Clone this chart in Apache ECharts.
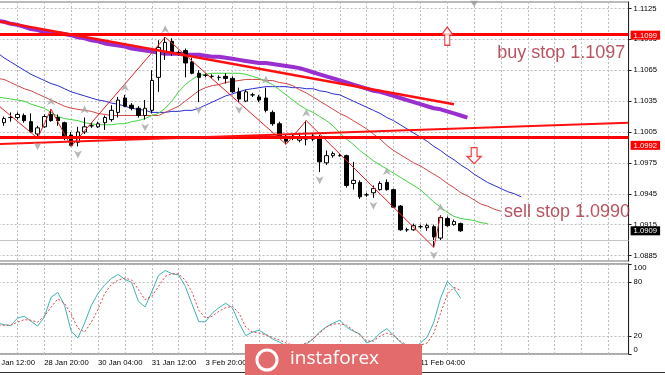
<!DOCTYPE html>
<html><head><meta charset="utf-8">
<script src="https://cdn.jsdelivr.net/npm/echarts@6/dist/echarts.min.js"></script>
<style>html,body{margin:0;padding:0;background:#fff}#c{width:665px;height:375px}</style>
</head><body><div id="c"></div>
<script>
// ---------- categories (H4 bars, weekends skipped) ----------
const days = ['27 Jan','28 Jan','29 Jan','30 Jan','31 Jan','3 Feb','4 Feb','5 Feb','6 Feb','7 Feb','10 Feb','11 Feb','12 Feb','13 Feb','14 Feb','17 Feb','18 Feb','19 Feb'];
const hours = ['00:00','04:00','08:00','12:00','16:00','20:00'];
const categories = [];
days.forEach(d => hours.forEach(h => categories.push(d + ' ' + h)));
categories.splice(0, 3);          // first category: 27 Jan 12:00
categories.length = 96;
const tickLabels = ['27 Jan 12:00','28 Jan 20:00','30 Jan 04:00','31 Jan 12:00','3 Feb 20:00','5 Feb 04:00','6 Feb 12:00','7 Feb 20:00','11 Feb 04:00'];
const OFF = 2; // bar 0 (27 Jan 20:00) is category 2

// ---------- candles ----------
const opens  = [1.1014,1.1019,1.1019,1.1021,1.1015,1.1003,1.1010,1.1022,1.1019,1.1014,1.1002,1.0995,1.1005,1.1011,1.1010,1.1014,1.1017,1.1024,1.1038,1.1031,1.1028,1.1021,1.1026,1.1058,1.1083,1.1093,1.1082,1.1084,1.1073,1.1062,1.1060,1.1059,1.1058,1.1059,1.1057,1.1044,1.1035,1.1041,1.1039,1.1038,1.1024,1.1013,1.1000,1.0999,1.0997,1.0998,1.0998,1.1000,1.0975,1.0982,1.0982,1.0982,1.0955,1.0956,1.0944,1.0946,1.0949,1.0956,1.0949,1.0933,1.0910,1.0910,1.0913,1.0912,1.0913,1.0902,1.0921,1.0915,1.0916];
const closes = [1.1018,1.1019,1.1022,1.1016,1.1005,1.1009,1.1020,1.1016,1.1016,1.1000,1.0992,1.1005,1.1010,1.1011,1.1013,1.1019,1.1026,1.1036,1.1030,1.1028,1.1021,1.1028,1.1055,1.1087,1.1092,1.1082,1.1082,1.1072,1.1062,1.1058,1.1060,1.1059,1.1058,1.1057,1.1044,1.1037,1.1044,1.1041,1.1036,1.1026,1.1013,1.1001,1.0996,1.0999,1.1000,1.1000,1.1001,1.0976,1.0982,1.0984,1.0982,1.0953,1.0958,1.0942,1.0944,1.0950,1.0955,1.0949,1.0932,1.0910,1.0910,1.0914,1.0913,1.0914,1.0903,1.0922,1.0914,1.0918,1.0909];
const lows   = [1.1011,1.1015,1.1017,1.1014,1.1004,1.0999,1.1009,1.1015,1.1011,1.0997,1.0991,1.0991,1.1003,1.1009,1.1009,1.1007,1.1015,1.1019,1.1029,1.1026,1.1019,1.1017,1.1023,1.1044,1.1075,1.1079,1.1079,1.1058,1.1061,1.1034,1.1058,1.1057,1.1055,1.1052,1.1043,1.1034,1.1034,1.1039,1.1034,1.1024,1.1011,1.0999,1.0993,1.0997,1.0995,1.0992,1.0996,1.0966,1.0973,1.0980,1.0981,1.0951,1.0949,1.0940,1.0942,1.0941,1.0948,1.0948,1.0931,1.0909,1.0908,1.0909,1.0911,1.0909,1.0893,1.0900,1.0913,1.0914,1.0908];
const highs  = [1.1020,1.1024,1.1024,1.1023,1.1023,1.1011,1.1022,1.1027,1.1022,1.1015,1.1005,1.1010,1.1019,1.1014,1.1015,1.1021,1.1031,1.1039,1.1041,1.1033,1.1030,1.1036,1.1065,1.1094,1.1097,1.1096,1.1084,1.1086,1.1077,1.1065,1.1062,1.1061,1.1060,1.1062,1.1059,1.1048,1.1046,1.1043,1.1041,1.1048,1.1026,1.1015,1.1002,1.1002,1.1003,1.1016,1.1004,1.1002,1.0987,1.0986,1.0984,1.0983,1.0976,1.0958,1.0946,1.0953,1.0957,1.0959,1.0950,1.0934,1.0912,1.0916,1.0915,1.0916,1.0915,1.0924,1.0923,1.0920,1.0917];

// ---------- indicator lines (from category 0) ----------
const lips = [1.1040,1.1039,1.1038,1.1037,1.1036,1.1035,1.1032,1.1030,1.1028,1.1024,1.1020,1.1018,1.1017,1.1016,1.1014,1.1013,1.1012,1.1012,1.1012,1.1013,1.1013,1.1015,1.1016,1.1018,1.1021,1.1023,1.1028,1.1035,1.1044,1.1051,1.1056,1.1060,1.1061,1.1062,1.1062,1.1062,1.1062,1.1062,1.1061,1.1059,1.1057,1.1054,1.1051,1.1046,1.1041,1.1036,1.1031,1.1027,1.1024,1.1020,1.1016,1.1011,1.1004,1.0998,1.0993,1.0987,1.0982,1.0977,1.0973,1.0969,1.0965,1.0961,1.0957,1.0953,1.0949,1.0943,1.0937,1.0932,1.0927,1.0923,1.0921,1.0920,1.0919,1.0917,1.0916];
const teeth = [1.1060,1.1057,1.1056,1.1053,1.1050,1.1047,1.1045,1.1042,1.1039,1.1036,1.1033,1.1030,1.1028,1.1027,1.1026,1.1025,1.1023,1.1022,1.1021,1.1021,1.1021,1.1021,1.1021,1.1021,1.1021,1.1021,1.1024,1.1027,1.1030,1.1035,1.1040,1.1045,1.1048,1.1050,1.1051,1.1053,1.1054,1.1055,1.1056,1.1056,1.1056,1.1055,1.1055,1.1053,1.1052,1.1050,1.1046,1.1043,1.1039,1.1035,1.1031,1.1027,1.1023,1.1020,1.1016,1.1012,1.1008,1.1003,1.0998,1.0992,1.0987,1.0983,1.0979,1.0975,1.0972,1.0968,1.0964,1.0960,1.0955,1.0951,1.0946,1.0943,1.0939,1.0935,1.0933,1.0930,1.0928];
const jaw = [1.1085,1.1082,1.1077,1.1073,1.1069,1.1065,1.1061,1.1058,1.1055,1.1052,1.1050,1.1047,1.1044,1.1042,1.1040,1.1038,1.1036,1.1035,1.1033,1.1032,1.1030,1.1028,1.1027,1.1026,1.1024,1.1024,1.1024,1.1025,1.1025,1.1026,1.1026,1.1028,1.1031,1.1034,1.1037,1.1040,1.1042,1.1044,1.1046,1.1047,1.1048,1.1049,1.1049,1.1049,1.1049,1.1048,1.1048,1.1047,1.1047,1.1045,1.1044,1.1042,1.1041,1.1038,1.1035,1.1032,1.1029,1.1026,1.1023,1.1019,1.1016,1.1012,1.1008,1.1004,1.1000,1.0996,1.0991,1.0987,1.0982,1.0978,1.0973,1.0969,1.0964,1.0960,1.0956,1.0953,1.0950,1.0947,1.0945,1.0942];
const slowMA = [1.1115,1.1113,1.1112,1.1110,1.1109,1.1107,1.1105,1.1104,1.1102,1.1101,1.1101,1.1100,1.1099,1.1097,1.1096,1.1094,1.1093,1.1091,1.1090,1.1089,1.1088,1.1086,1.1085,1.1084,1.1083,1.1082,1.1081,1.1081,1.1081,1.1080,1.1080,1.1080,1.1079,1.1078,1.1078,1.1077,1.1076,1.1075,1.1074,1.1073,1.1072,1.1072,1.1071,1.1070,1.1069,1.1068,1.1067,1.1065,1.1063,1.1061,1.1059,1.1057,1.1055,1.1053,1.1051,1.1049,1.1047,1.1045,1.1044,1.1042,1.1040,1.1038,1.1036,1.1034,1.1032,1.1030,1.1028,1.1027,1.1025,1.1023,1.1021,1.1019];
const stochK = [36.5,34.3,32.6,31.5,39.8,42,36.5,31,40.9,63,68.5,54.1,25.4,18,34.3,54.1,67.4,76.8,84,88.4,82.9,79.6,58.6,52.3,69.1,87.3,92.8,89.2,87.8,75.1,55.3,35.9,35.7,45.3,51.4,56.4,51.4,34.3,20.4,24.3,26.5,21.5,16.6,13.3,8.8,6.6,7.7,11,16.6,24.6,30.2,34.3,37.6,29.8,25.4,22.1,12.2,15.5,23.2,28.2,21,13.3,7.7,6.6,12.2,18.8,35.4,61.9,80.7,72.9,61.9];
const stochD = [32,32,32,32,35.4,38.1,37.6,35.4,42,51.9,61.3,56.4,44.2,28.7,24.3,35.4,49.7,67.4,77.4,82.3,84.3,82.3,71.8,60.2,64.1,75.1,86.2,89.2,89,81.8,68.5,48.6,39.8,42,47.5,51.4,53,45.3,29.8,24.3,23.2,21.5,18.2,15.5,12.2,9.9,9.9,12.2,16.6,23.2,29.8,33.2,33.7,32,26.5,21,14.4,14.4,19.9,23.2,21,14.4,9.9,8.8,9.9,12.2,23.2,45.3,66.3,74,70.7];

// zigzag vertices (bar index, price)
const zigBars   = [-2, 5, 7, 10, 24, 42, 45, 64, 65];
const zigPrices = [1.1037,1.0999,1.1027,1.0991,1.1097,1.0993,1.1016,1.0893,1.0924];
// fractals (bar indices)
const fractalUp   = [7, 12, 18, 24, 39, 45, 57, 65];
const fractalDown = [5, 11, 21, 29, 35, 47, 55, 64];
// trend lines (bar index, price)
const downTrendBars = [-2, 67], downTrendPrices = [1.1114, 1.1032];
const upTrendBars   = [-2, 93], upTrendPrices   = [1.0993, 1.1014];
// levels
const resistance = 1.1099, support = 1.0992, buyStop = 1.1097, sellStop = 1.0990;
const dashLevels = [1.1053, 1.1035];
const bid = 1.0909;
const priceTicks = [1.0885,1.0915,1.0945,1.0975,1.1005,1.1035,1.1065,1.1095,1.1125];
const stochTicks = [0, 20, 80, 100];
const stochLabels = [0, 20, 80];
// arrows / texts
const buyArrow = [66, 1.1098], sellArrow = [70, 1.0982];
const buyText = [73, 1.1082, 'buy stop 1.1097'];
const sellText = [74, 1.0927, 'sell stop 1.0990'];

const FONT = 'Liberation Sans';
const gridColor = '#bdbdbd';
const chart = echarts.init(document.getElementById('c'));

const candleData = opens.map((o, i) => [i + OFF, o, closes[i], lows[i], highs[i]]);
const xAxisBase = (gi, showLabel) => ({
  type: 'category', gridIndex: gi, data: categories, boundaryGap: false,
  axisLine: {show: false}, axisTick: {show: false},
  axisLabel: {show: showLabel, interval: (j, v) => tickLabels.indexOf(v) >= 0, align: 'left',
    fontFamily: FONT, fontSize: 7.7, color: '#000', margin: 5, hideOverlap: false},
  splitLine: {show: true, interval: (j) => j % 4 === 0, lineStyle: {color: gridColor, type: [2, 2], width: 1}}
});
const ARROW = 'path://M6,0 L12,8 L8.5,8 L8.5,18 L3.5,18 L3.5,8 L0,8 Z';
const FRACT = 'path://M5,0 L10,9 L5,6.5 L0,9 Z';

chart.setOption({
  animation: false,
  backgroundColor: '#fff',
  grid: [
    {left: -9.4, right: 36.4, top: 2, height: 259, outerBoundsMode: 'none', containLabel: false,
     show: true, borderColor: '#777', borderWidth: 1, backgroundColor: 'transparent'},
    {left: -9.4, right: 36.4, top: 264, height: 90, outerBoundsMode: 'none', containLabel: false,
     show: true, borderColor: '#555', borderWidth: 1, backgroundColor: 'transparent'}
  ],
  xAxis: [xAxisBase(0, false), xAxisBase(1, true)],
  yAxis: [
    {type: 'value', gridIndex: 0, position: 'right', min: 1.08797, max: 1.11312, scale: true,
     axisLine: {show: true, lineStyle: {color: '#222'}},
     axisTick: {show: true, length: 3, customValues: priceTicks, lineStyle: {color: '#222'}},
     axisLabel: {customValues: priceTicks, formatter: v => v.toFixed(4), fontFamily: FONT, fontSize: 7.7, color: '#000', margin: 5},
     splitLine: {show: true, lineStyle: {color: gridColor, type: [2, 2]}}},
    {type: 'value', gridIndex: 0, position: 'right', min: 1.08797, max: 1.11312, scale: true,
     axisLine: {show: false}, axisTick: {show: false}, splitLine: {show: false},
     axisLabel: {customValues: [resistance, support, bid], margin: 2,
       formatter: v => (Math.abs(v - bid) < 1e-6 ? '{b|' : '{r|') + v.toFixed(4) + '}',
       rich: {r: {backgroundColor: '#ff0000', color: '#fff', padding: [1, 3, 0, 3], fontFamily: FONT, fontSize: 7.7},
              b: {backgroundColor: '#000', color: '#fff', padding: [1, 3, 0, 3], fontFamily: FONT, fontSize: 7.7}}}},
    {type: 'value', gridIndex: 1, position: 'right', min: 0, max: 100,
     axisLine: {show: true, lineStyle: {color: '#222'}},
     axisTick: {show: true, length: 3, customValues: stochTicks, lineStyle: {color: '#222'}},
     axisLabel: {customValues: stochLabels, color: '#000', margin: 5, hideOverlap: false,
       showMinLabel: true, showMaxLabel: true,
       formatter: v => (v < 1 ? '{m|0}' : '{n|' + Math.round(v) + '}'),
       rich: {m: {padding: [0, 0, 8, 0], fontFamily: FONT, fontSize: 7.7, color: '#000'},
              n: {fontFamily: FONT, fontSize: 7.7, color: '#000'}}},
     splitLine: {show: true, lineStyle: {color: gridColor, type: [2, 2]}}},
    // separate label-only axis for the top level (100) of the oscillator, set just inside the pane
    {type: 'value', gridIndex: 1, position: 'right', min: 0, max: 100,
     axisLine: {show: false}, axisTick: {show: false}, splitLine: {show: false},
     axisLabel: {customValues: [95.5], formatter: () => String(stochTicks[3]), color: '#000', margin: 5,
       fontFamily: FONT, fontSize: 7.7, hideOverlap: false, showMinLabel: true, showMaxLabel: true}}
  ],
  series: [
    {type: 'line', name: 'levels', xAxisIndex: 0, yAxisIndex: 0, data: [], silent: true,
     markLine: {silent: true, symbol: ['none', 'none'], label: {show: false}, animation: false,
       data: [
         {yAxis: bid, lineStyle: {color: '#c4c4c4', width: 1, type: 'solid'}},
         {yAxis: dashLevels[0], lineStyle: {color: '#e0784a', width: 1, type: [8, 3, 2, 3]}},
         {yAxis: dashLevels[1], lineStyle: {color: '#e0784a', width: 1, type: [8, 3, 2, 3]}}
       ]}},
    {type: 'line', name: 'jaw', data: jaw, showSymbol: false, lineStyle: {color: '#2b2bd0', width: 1}, z: 3},
    {type: 'line', name: 'teeth', data: teeth, showSymbol: false, lineStyle: {color: '#d04545', width: 1}, z: 3},
    {type: 'line', name: 'lips', data: lips, showSymbol: false, lineStyle: {color: '#3fd43f', width: 1}, z: 3},
    {type: 'line', name: 'ma', data: slowMA, showSymbol: false, lineStyle: {color: '#9a2fd0', width: 4}, z: 3},
    {type: 'candlestick', name: 'EURUSD', data: candleData, encode: {x: 0, y: [1, 2, 3, 4]}, barWidth: 4,
     itemStyle: {color: '#fff', color0: '#000', borderColor: '#000', borderColor0: '#000', borderWidth: 1}, z: 4},
    {type: 'line', name: 'zigzag', data: zigBars.map((b, k) => [b + OFF, zigPrices[k]]), showSymbol: false,
     lineStyle: {color: '#e02020', width: 1}, z: 5},
    {type: 'line', name: 'downTrend', data: downTrendBars.map((b, k) => [b + OFF, downTrendPrices[k]]), showSymbol: false,
     lineStyle: {color: '#ff1010', width: 2.5}, z: 6},
    {type: 'line', name: 'upTrend', data: upTrendBars.map((b, k) => [b + OFF, upTrendPrices[k]]), showSymbol: false,
     lineStyle: {color: '#ff1010', width: 2}, z: 6},
    {type: 'line', name: 'orders', data: [], silent: true, z: 6,
     markLine: {silent: true, symbol: ['none', 'none'], label: {show: false}, animation: false,
       data: [
         {yAxis: buyStop, lineStyle: {color: '#2e7d2e', width: 1, type: [6, 3]}},
         {yAxis: sellStop, lineStyle: {color: '#8c5a1e', width: 2, type: [6, 3]}},
         {yAxis: resistance, lineStyle: {color: '#ff0000', width: 3, type: 'solid'}},
         {yAxis: support, lineStyle: {color: '#ff0000', width: 3, type: 'solid'}}
       ]}},
    {type: 'scatter', name: 'fractalUp', data: fractalUp.map(i => [i + OFF, highs[i]]), symbol: FRACT, symbolSize: [8, 8],
     symbolOffset: [0, -8], itemStyle: {color: '#a6a6a6'}, z: 7},
    {type: 'scatter', name: 'fractalDown', data: fractalDown.map(i => [i + OFF, lows[i]]), symbol: FRACT, symbolSize: [8, 8],
     symbolRotate: 180, symbolOffset: [0, 8], itemStyle: {color: '#a6a6a6'}, z: 7},
    {type: 'scatter', name: 'arrows', z: 8,
     data: [{value: [buyArrow[0] + OFF, buyArrow[1]], symbolRotate: 0, symbolSize: [12, 18]},
            {value: [sellArrow[0] + OFF, sellArrow[1]], symbolRotate: 180, symbolSize: [14, 16]}],
     symbol: ARROW, itemStyle: {color: '#fff', borderColor: '#ee1111', borderWidth: 1.3}},
    {type: 'scatter', name: 'texts', symbolSize: 0, z: 8,
     data: [buyText, sellText].map(t => ({value: [t[0] + OFF, t[1]], label: {formatter: t[2]}})),
     label: {show: true, position: 'right', distance: 3, color: '#a82838', fontFamily: FONT, fontSize: 18}},
    {type: 'scatter', name: 'shift', data: [[72, 1.11295]], symbol: 'triangle', symbolRotate: 180, symbolSize: [8, 6],
     itemStyle: {color: '#9a9a9a'}, z: 8},
    {type: 'line', name: '%K', xAxisIndex: 1, yAxisIndex: 2, data: stochK, showSymbol: false,
     lineStyle: {color: '#3fb3b0', width: 1}},
    {type: 'line', name: '%D', xAxisIndex: 1, yAxisIndex: 2, data: stochD, showSymbol: false,
     lineStyle: {color: '#e0404a', width: 1, type: [2, 2]}}
  ],
  graphic: {elements: [
    {type: 'line', shape: {x1: 0, y1: 372.5, x2: 665, y2: 372.5}, style: {stroke: '#333', lineWidth: 1}, z: 90},
    {type: 'rect', shape: {x: 245, y: 344, width: 177, height: 31}, style: {fill: '#e36b6b'}, z: 100},
    {type: 'circle', shape: {cx: 267, cy: 360, r: 10}, style: {fill: 'none', stroke: '#fff', lineWidth: 3}, z: 101},
    {type: 'text', style: {text: 'instaforex', x: 290, y: 359, fill: '#fff', font: '19px "Open Sans"', verticalAlign: 'middle'}, z: 101}
  ]}
});
</script></body></html>
